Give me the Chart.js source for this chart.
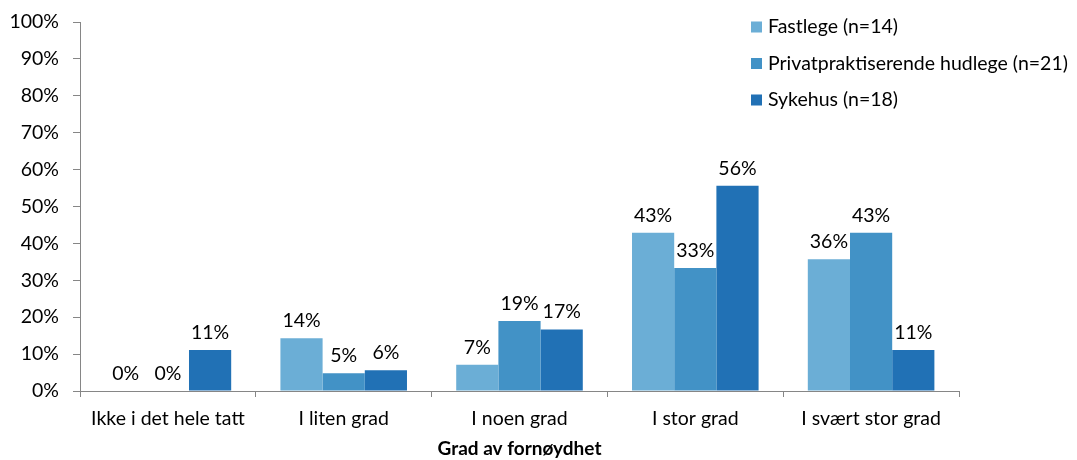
<!DOCTYPE html>
<html>
<head>
<meta charset="utf-8">
<script src="https://cdn.jsdelivr.net/npm/chart.js@4"></script>
<style>
  html, body { margin: 0; padding: 0; background: #fff; }
  #wrap { width: 1077px; height: 460px; }
</style>
</head>
<body>
<div id="wrap"><canvas id="chart"></canvas></div>
<script>
const categories = ["Ikke i det hele tatt", "I liten grad", "I noen grad", "I stor grad", "I svært stor grad"];
const fastlege = [0, 14.3, 7.1, 42.9, 35.7];
const privat = [0, 4.8, 19.0, 33.3, 42.9];
const sykehus = [11.1, 5.6, 16.7, 55.6, 11.1];
const seriesNames = ["Fastlege (n=14)", "Privatpraktiserende hudlege (n=21)", "Sykehus (n=18)"];
const colors = ["#6baed6", "#4292c6", "#2171b5"];

const FONT = "Lato, 'Open Sans', sans-serif";

// value labels above each bar
const barLabels = {
  id: "barLabels",
  afterDatasetsDraw(chart) {
    const ctx = chart.ctx;
    ctx.save();
    ctx.font = "19.5px " + FONT;
    ctx.fillStyle = "#000";
    ctx.textAlign = "center";
    ctx.textBaseline = "alphabetic";
    chart.data.datasets.forEach((ds, i) => {
      chart.getDatasetMeta(i).data.forEach((bar, j) => {
        ctx.fillText(Math.round(ds.data[j]) + "%", bar.x, bar.y - 11);
      });
    });
    ctx.restore();
  }
};

// legend drawn inside the plot, top right
const insideLegend = {
  id: "insideLegend",
  afterDraw(chart) {
    const ctx = chart.ctx;
    ctx.save();
    ctx.font = "19.5px " + FONT;
    ctx.textBaseline = "middle";
    chart.data.datasets.forEach((ds, i) => {
      const y = 27 + i * 36.5;
      ctx.fillStyle = ds.backgroundColor;
      ctx.fillRect(751, y - 5.5, 11, 11);
      ctx.fillStyle = "#000";
      ctx.fillText(ds.label, 768, y);
    });
    ctx.restore();
  }
};

new Chart(document.getElementById("chart").getContext("2d"), {
  type: "bar",
  data: {
    labels: categories,
    datasets: [
      { label: seriesNames[0], data: fastlege, backgroundColor: colors[0] },
      { label: seriesNames[1], data: privat, backgroundColor: colors[1] },
      { label: seriesNames[2], data: sykehus, backgroundColor: colors[2] }
    ]
  },
  options: {
    responsive: true,
    maintainAspectRatio: false,
    animation: false,
    layout: { padding: { top: 22, right: 118, bottom: 0, left: 0 } },
    datasets: { bar: { categoryPercentage: 0.72, barPercentage: 1.0 } },
    plugins: { legend: { display: false }, tooltip: { enabled: false } },
    scales: {
      x: {
        grid: { drawOnChartArea: false, drawTicks: true, tickLength: 6, color: "#868686", offset: true },
        border: { color: "#868686" },
        ticks: { color: "#000", font: { family: FONT, size: 19.5 }, padding: 10 },
        title: { display: true, text: "Grad av fornøydhet", color: "#000", font: { family: FONT, size: 19, weight: "bold" }, padding: { top: 3, bottom: 0 } },
        afterFit(scale) { scale.height = 69; scale.paddingLeft = 0; scale.paddingRight = 0; }
      },
      y: {
        min: 0,
        max: 100,
        grid: { drawOnChartArea: false, drawTicks: true, tickLength: 7, color: "#868686" },
        border: { color: "#868686" },
        ticks: {
          stepSize: 10,
          color: "#000",
          font: { family: FONT, size: 19.5 },
          padding: 14,
          callback: v => v + "%"
        },
        afterFit(scale) { scale.width = 80; scale.paddingTop = 0; scale.paddingBottom = 0; }
      }
    }
  },
  plugins: [barLabels, insideLegend]
});
</script>
</body>
</html>
